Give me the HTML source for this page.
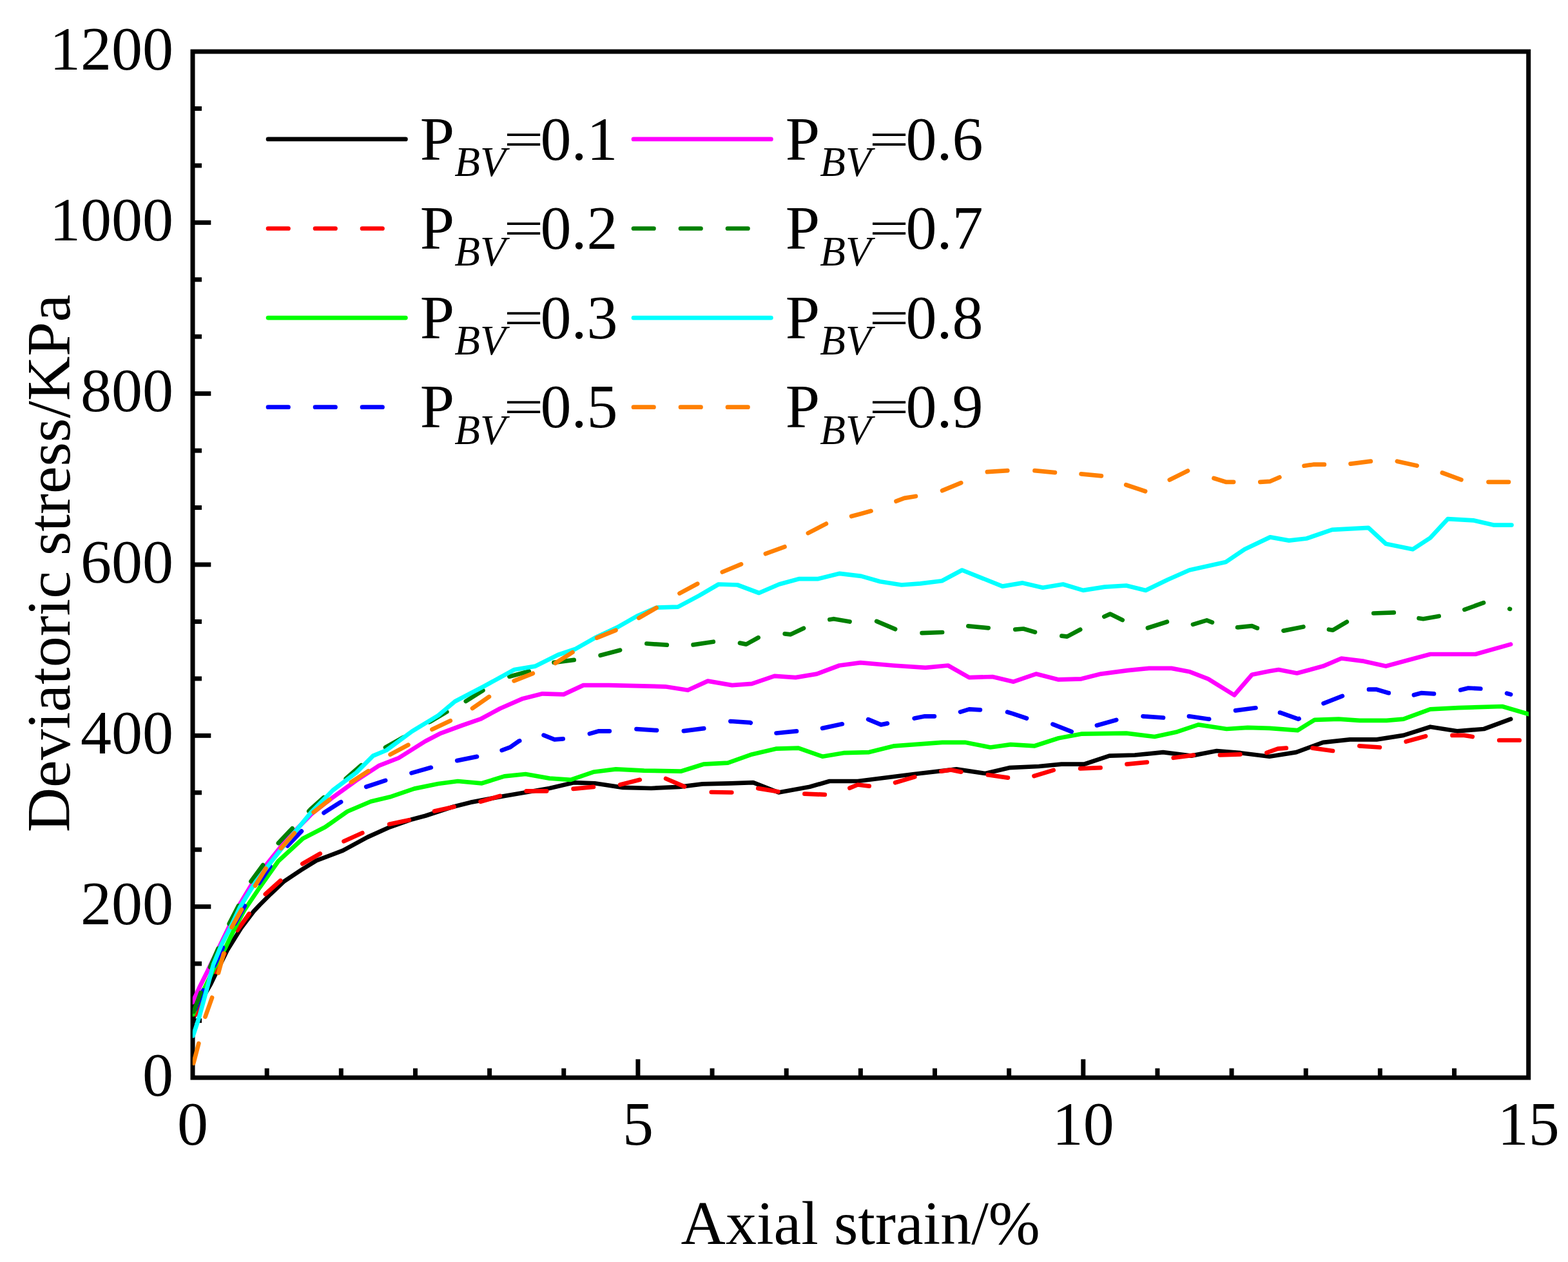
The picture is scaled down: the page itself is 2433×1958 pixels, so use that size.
<!DOCTYPE html>
<html><head><meta charset="utf-8"><title>Deviatoric stress vs axial strain</title>
<style>html,body{margin:0;padding:0;background:#fff;} svg{display:block;}</style>
</head><body>
<svg width="2433" height="1958" viewBox="0 0 2433 1958">
<rect x="0" y="0" width="2433" height="1958" fill="#ffffff"/>
<g stroke="#000" stroke-width="7.0" fill="none">
<rect x="299.0" y="80.0" width="2072.7" height="1592.0" stroke-linejoin="miter"/>
<line x1="299.0" y1="1583.56" x2="313.00" y2="1583.56"/>
<line x1="299.0" y1="1495.11" x2="313.00" y2="1495.11"/>
<line x1="299.0" y1="1406.67" x2="327.30" y2="1406.67"/>
<line x1="299.0" y1="1318.22" x2="313.00" y2="1318.22"/>
<line x1="299.0" y1="1229.78" x2="313.00" y2="1229.78"/>
<line x1="299.0" y1="1141.33" x2="327.30" y2="1141.33"/>
<line x1="299.0" y1="1052.89" x2="313.00" y2="1052.89"/>
<line x1="299.0" y1="964.44" x2="313.00" y2="964.44"/>
<line x1="299.0" y1="876.00" x2="327.30" y2="876.00"/>
<line x1="299.0" y1="787.56" x2="313.00" y2="787.56"/>
<line x1="299.0" y1="699.11" x2="313.00" y2="699.11"/>
<line x1="299.0" y1="610.67" x2="327.30" y2="610.67"/>
<line x1="299.0" y1="522.22" x2="313.00" y2="522.22"/>
<line x1="299.0" y1="433.78" x2="313.00" y2="433.78"/>
<line x1="299.0" y1="345.33" x2="327.30" y2="345.33"/>
<line x1="299.0" y1="256.89" x2="313.00" y2="256.89"/>
<line x1="299.0" y1="168.44" x2="313.00" y2="168.44"/>
<line x1="414.15" y1="1672.0" x2="414.15" y2="1657.50"/>
<line x1="529.30" y1="1672.0" x2="529.30" y2="1657.50"/>
<line x1="644.45" y1="1672.0" x2="644.45" y2="1657.50"/>
<line x1="759.60" y1="1672.0" x2="759.60" y2="1657.50"/>
<line x1="874.75" y1="1672.0" x2="874.75" y2="1657.50"/>
<line x1="989.90" y1="1672.0" x2="989.90" y2="1643.40"/>
<line x1="1105.05" y1="1672.0" x2="1105.05" y2="1657.50"/>
<line x1="1220.20" y1="1672.0" x2="1220.20" y2="1657.50"/>
<line x1="1335.35" y1="1672.0" x2="1335.35" y2="1657.50"/>
<line x1="1450.50" y1="1672.0" x2="1450.50" y2="1657.50"/>
<line x1="1565.65" y1="1672.0" x2="1565.65" y2="1657.50"/>
<line x1="1680.80" y1="1672.0" x2="1680.80" y2="1643.40"/>
<line x1="1795.95" y1="1672.0" x2="1795.95" y2="1657.50"/>
<line x1="1911.10" y1="1672.0" x2="1911.10" y2="1657.50"/>
<line x1="2026.25" y1="1672.0" x2="2026.25" y2="1657.50"/>
<line x1="2141.40" y1="1672.0" x2="2141.40" y2="1657.50"/>
<line x1="2256.55" y1="1672.0" x2="2256.55" y2="1657.50"/>
</g>
<defs><clipPath id="pc"><rect x="298.8" y="80" width="2073.2" height="1592"/></clipPath></defs>
<g fill="none" stroke-linejoin="round" stroke-linecap="round" clip-path="url(#pc)">
<polyline points="299.6,1580.0 312.0,1553.0 327.1,1526.5 340.0,1500.0 352.5,1474.6 374.0,1440.0 393.6,1414.0 403.0,1404.0 420.0,1387.0 440.0,1368.0 467.0,1350.0 491.0,1335.2 532.0,1319.6 570.2,1298.9 604.8,1283.3 639.4,1271.2 660.0,1265.7 704.0,1251.4 730.0,1244.9 782.6,1235.0 852.7,1223.0 890.0,1214.2 922.8,1215.3 966.5,1221.9 1010.3,1223.0 1054.1,1220.8 1090.0,1216.4 1133.8,1215.3 1168.8,1214.2 1208.2,1229.5 1256.4,1220.8 1287.1,1212.0 1330.9,1212.0 1418.4,1201.0 1484.1,1193.4 1528.8,1200.0 1566.0,1191.2 1612.0,1189.0 1647.0,1185.7 1682.0,1185.7 1721.4,1172.6 1760.9,1171.5 1804.7,1167.1 1848.4,1172.6 1887.9,1165.0 1925.1,1168.2 1969.7,1173.7 2011.3,1167.1 2052.9,1151.8 2094.5,1147.4 2136.1,1147.4 2177.7,1140.9 2219.3,1127.7 2260.9,1134.3 2302.5,1131.0 2344.1,1115.7" stroke="#000000" stroke-width="6.7"/>
<path d="M303.7,1574.1 L316.8,1545.5M334.3,1507.9 L335.2,1506.0 L348.2,1479.6M368.3,1443.3 L386.6,1417.7M411.8,1387.3 L435.2,1366.3M469.3,1340.2 L496.7,1324.5M533.5,1305.3 L562.3,1292.3M604.1,1278.8 L634.9,1272.2M674.0,1258.6 L704.7,1251.7M745.6,1243.8 L775.8,1235.0M816.7,1227.3 L848.2,1227.3M889.6,1223.9 L920.9,1220.9M962.2,1217.5 L992.8,1209.8M1033.1,1208.0 L1062.0,1220.4M1103.8,1229.0 L1135.3,1229.5M1176.3,1223.1 L1207.3,1228.3M1248.4,1231.7 L1279.8,1232.8M1318.4,1222.7 L1330.9,1217.5 L1348.7,1219.6M1389.1,1214.2 L1419.3,1205.4M1460.4,1196.6 L1475.4,1194.5 L1491.4,1197.7M1532.9,1202.2 L1533.0,1202.2 L1563.8,1206.6 L1564.0,1206.6M1604.5,1204.0 L1634.7,1194.9M1676.2,1192.3 L1707.6,1191.2M1748.5,1185.6 L1779.8,1182.6M1820.8,1175.8 L1852.0,1171.6M1892.9,1171.5 L1924.4,1170.4M1965.4,1167.8 L1982.8,1161.7 L1995.8,1160.7M2036.7,1160.6 L2068.0,1165.0M2109.4,1157.3 L2140.9,1159.5M2181.7,1150.5 L2212.1,1142.2M2253.5,1140.9 L2271.9,1140.9 L2284.8,1143.0M2326.2,1148.5 L2357.7,1148.5" stroke="#FF0000" stroke-width="6.7"/>
<polyline points="299.6,1574.0 315.0,1538.0 332.0,1503.0 349.0,1472.0 363.4,1442.0 378.7,1413.0 402.9,1377.0 431.9,1336.0 470.0,1301.0 504.5,1283.3 539.0,1259.0 575.4,1243.5 604.8,1236.6 642.8,1223.6 680.0,1216.0 710.4,1212.0 747.6,1215.3 782.6,1204.4 815.5,1201.0 852.7,1207.6 885.5,1209.8 920.6,1197.8 955.6,1193.4 999.4,1195.6 1056.3,1196.7 1091.4,1185.7 1129.4,1183.6 1166.6,1170.4 1203.9,1161.7 1238.9,1160.6 1276.1,1173.7 1309.0,1168.2 1348.4,1167.1 1387.8,1157.3 1462.2,1151.8 1497.3,1151.8 1536.7,1159.5 1568.2,1155.1 1605.4,1157.3 1642.6,1145.2 1677.7,1138.7 1747.7,1137.6 1791.5,1143.0 1826.5,1135.4 1859.4,1124.4 1903.2,1131.0 1936.0,1128.8 1970.0,1129.9 2013.5,1133.2 2039.8,1116.8 2077.0,1115.7 2109.8,1117.9 2151.4,1117.9 2177.7,1115.7 2219.3,1100.4 2263.1,1098.2 2331.0,1096.0 2372.0,1108.0" stroke="#00FF00" stroke-width="6.7"/>
<path d="M303.5,1565.5 L315.4,1536.4M332.3,1498.5 L340.0,1482.0 L345.8,1470.0M364.5,1433.0 L379.8,1405.4M401.8,1370.3 L419.3,1344.1M446.0,1312.4 L467.9,1289.6M502.5,1261.1 L502.8,1260.8 L528.7,1244.4 L529.1,1244.2M568.2,1220.8 L598.1,1210.9M638.5,1199.4 L638.5,1199.4 L668.8,1190.8 L668.8,1190.8M709.2,1180.1 L740.0,1173.9M778.7,1164.1 L779.3,1163.9 L791.4,1159.4 L805.6,1149.6 L806.2,1149.4M843.6,1140.6 L860.4,1147.4 L873.7,1146.4M914.9,1138.4 L929.3,1134.3 L945.8,1134.3M987.5,1131.1 L1019.0,1133.1M1060.9,1134.1 L1092.2,1130.1M1133.4,1119.1 L1133.8,1119.0 L1164.4,1121.2 L1164.8,1121.4M1204.6,1137.5 L1236.0,1134.4M1276.1,1129.9 L1276.1,1129.9 L1306.8,1123.3 L1306.8,1123.3M1347.2,1116.1 L1367.0,1124.4 L1376.9,1122.4M1418.7,1114.5 L1434.9,1111.3 L1449.9,1111.3M1490.1,1104.6 L1503.8,1100.4 L1520.9,1101.4M1563.1,1104.8 L1570.4,1106.9 L1593.0,1114.5M1633.5,1123.6 L1662.7,1135.1M1701.9,1125.4 L1732.2,1116.9M1773.6,1111.3 L1805.0,1113.5M1844.9,1111.3 L1845.2,1111.3 L1875.8,1115.7 L1876.1,1115.6M1917.1,1102.4 L1948.4,1098.3M1986.0,1105.6 L1987.2,1105.8 L2014.6,1115.7 L2015.6,1115.1M2053.6,1091.3 L2082.9,1079.9M2124.0,1069.7 L2124.1,1069.7 L2136.1,1069.7 L2154.7,1075.2 L2154.8,1075.2M2193.9,1078.3 L2205.1,1075.2 L2225.0,1076.3M2266.2,1070.6 L2278.4,1067.5 L2297.3,1068.5M2338.1,1075.7 L2344.1,1077.4" stroke="#0000FF" stroke-width="6.7"/>
<polyline points="299.0,1555.0 310.4,1530.0 321.4,1508.0 335.0,1480.0 350.0,1449.0 372.6,1402.0 390.0,1373.0 412.9,1342.0 445.0,1302.0 483.8,1262.5 514.9,1238.3 553.0,1210.7 587.5,1188.2 618.6,1176.0 660.0,1150.0 684.1,1137.6 716.9,1125.5 745.4,1115.7 776.0,1099.3 811.1,1083.9 841.7,1076.3 874.6,1077.4 905.2,1063.1 944.7,1063.1 1032.2,1065.3 1067.3,1070.8 1098.3,1056.6 1136.0,1063.1 1166.6,1060.9 1201.7,1048.9 1234.5,1051.1 1267.4,1045.6 1302.4,1032.5 1335.2,1028.1 1385.6,1032.5 1436.0,1035.8 1471.0,1032.5 1503.8,1051.1 1540.0,1050.0 1572.6,1057.7 1607.6,1045.6 1642.6,1054.4 1677.7,1053.3 1708.3,1045.6 1749.9,1040.1 1782.8,1036.9 1817.8,1036.9 1846.3,1042.3 1874.7,1053.3 1915.2,1078.5 1942.6,1046.7 1970.0,1041.2 1983.9,1039.0 2012.4,1044.5 2052.9,1033.6 2081.4,1021.5 2116.4,1025.9 2150.4,1033.6 2186.5,1023.7 2219.3,1015.0 2289.4,1015.0 2344.1,999.6" stroke="#FF00FF" stroke-width="6.7"/>
<path d="M300.5,1569.6 L311.5,1540.1M326.0,1500.6 L338.4,1471.7M355.6,1433.3 L355.7,1433.0 L370.0,1405.3M389.4,1367.5 L408.1,1342.1M431.9,1308.1 L448.9,1290.0 L453.5,1285.2M479.2,1258.6 L482.0,1255.6 L499.3,1240.0 L502.4,1237.3M536.7,1208.1 L560.5,1187.4M598.0,1159.6 L625.4,1144.1M666.1,1120.3 L668.8,1119.0 L690.7,1105.8 L693.3,1104.4M722.8,1088.0 L749.4,1071.1M790.4,1049.7 L820.8,1041.5M859.5,1027.9 L890.7,1023.9M931.6,1016.8 L962.1,1008.7M1003.4,998.5 L1034.8,1000.7M1075.6,1000.4 L1106.8,995.7M1148.0,997.6 L1157.9,999.6 L1176.6,989.2M1217.7,983.3 L1226.9,984.3 L1247.0,974.7M1287.4,961.2 L1293.6,960.2 L1318.5,964.5M1360.2,963.9 L1389.1,976.2M1430.6,982.1 L1462.1,981.0M1502.4,971.3 L1533.7,974.3M1575.3,976.6 L1587.9,975.5 L1606.0,980.8M1647.4,986.6 L1655.8,987.6 L1676.2,976.8M1713.3,956.7 L1722.5,952.6 L1741.7,962.1M1780.9,974.3 L1810.9,964.7M1851.0,968.9 L1872.5,962.4 L1880.9,965.6M1920.1,973.3 L1920.7,973.4 L1942.6,971.2 L1950.3,974.4 L1950.9,974.5M1991.5,978.6 L2022.4,972.5M2062.0,976.7 L2068.2,977.7 L2089.8,964.8M2131.3,951.5 L2162.8,950.4M2201.6,959.2 L2208.4,960.2 L2232.7,956.0M2272.4,945.8 L2302.0,935.2M2342.3,944.7 L2343.0,944.9" stroke="#008000" stroke-width="6.7"/>
<polyline points="299.6,1607.0 308.8,1579.0 320.0,1538.0 331.2,1496.0 344.0,1465.0 357.0,1440.0 372.6,1407.0 396.8,1368.0 421.0,1337.0 445.2,1306.0 483.8,1259.0 516.6,1226.0 553.0,1198.6 578.9,1172.6 599.6,1164.0 639.4,1134.6 680.0,1110.0 706.0,1088.3 752.0,1064.2 798.0,1039.0 830.8,1033.6 865.8,1016.0 892.0,1007.3 922.8,989.8 957.8,973.4 988.4,955.8 1019.1,942.7 1051.9,941.6 1084.8,924.1 1115.0,906.5 1144.3,907.5 1177.7,920.0 1209.0,906.5 1240.3,898.1 1269.5,898.1 1302.9,889.8 1336.3,893.9 1365.5,902.3 1398.9,907.5 1428.1,905.4 1461.5,901.2 1492.8,884.5 1555.5,909.6 1586.8,904.4 1618.1,911.7 1649.4,906.5 1680.7,915.9 1714.1,910.6 1747.5,908.5 1777.8,915.9 1812.2,899.2 1845.6,884.5 1902.0,872.0 1931.2,852.2 1970.9,833.4 2000.1,838.6 2027.2,835.5 2066.9,821.9 2123.2,818.8 2150.4,843.8 2192.1,852.2 2219.3,834.5 2246.4,805.2 2286.0,807.3 2317.4,814.6 2345.5,814.6" stroke="#00FFFF" stroke-width="6.7"/>
<path d="M300.3,1649.5 L308.3,1619.0M318.5,1577.5 L329.0,1547.8M338.9,1509.5 L339.0,1509.0 L347.2,1479.1M359.5,1438.7 L374.9,1411.2M396.0,1374.3 L412.4,1347.4M435.9,1316.2 L456.8,1292.6M486.6,1260.2 L511.3,1240.7M544.9,1213.6 L571.4,1196.4M605.6,1170.6 L633.4,1155.7M670.4,1131.8 L698.8,1118.2M733.0,1098.9 L758.9,1081.0M797.6,1056.3 L826.8,1044.8M861.8,1028.9 L888.4,1012.0M926.2,989.7 L955.4,977.8M991.2,958.8 L1018.5,943.0M1054.5,920.6 L1082.2,905.7M1120.8,887.5 L1150.0,875.4M1187.9,859.2 L1217.5,848.3M1253.9,827.1 L1281.9,812.6M1321.1,801.0 L1336.3,796.9 L1351.5,792.8M1390.5,777.7 L1403.1,772.9 L1420.9,770.0M1462.1,761.2 L1491.2,749.1M1531.9,732.2 L1563.3,730.1M1605.5,730.2 L1636.9,733.1M1677.6,735.3 L1677.6,735.3 L1708.9,738.4 L1708.9,738.4M1747.2,752.2 L1777.1,762.2M1814.8,744.4 L1843.0,730.4M1883.5,742.0 L1902.0,747.8 L1914.1,747.8M1955.3,747.8 L1970.9,746.8 L1985.4,740.5M2023.6,722.7 L2037.7,720.7 L2054.9,720.7M2095.6,719.6 L2126.9,715.6M2167.9,715.7 L2198.6,722.6M2237.9,733.5 L2267.4,744.4M2309.5,747.8 L2341.0,747.8" stroke="#FF8000" stroke-width="6.7"/>
</g>
<g font-family="'Liberation Serif','Times New Roman',serif" font-size="96" fill="#000">
<text x="269.0" y="1699.6" text-anchor="end">0</text>
<text x="269.0" y="1434.3" text-anchor="end">200</text>
<text x="269.0" y="1168.9" text-anchor="end">400</text>
<text x="269.0" y="903.6" text-anchor="end">600</text>
<text x="269.0" y="638.3" text-anchor="end">800</text>
<text x="269.0" y="372.9" text-anchor="end">1000</text>
<text x="269.0" y="107.6" text-anchor="end">1200</text>
<text x="299.0" y="1775.8" text-anchor="middle">0</text>
<text x="989.9" y="1775.8" text-anchor="middle">5</text>
<text x="1680.8" y="1775.8" text-anchor="middle">10</text>
<text x="2371.7" y="1775.8" text-anchor="middle">15</text>
<text x="1335.2" y="1930.2" text-anchor="middle">Axial strain/%</text>
<text transform="translate(108,874) rotate(-90)" x="0" y="0" text-anchor="middle">Deviatoric stress/KPa</text>
</g>
<line x1="416.0" y1="215.9" x2="629.4" y2="215.9" stroke="#000000" stroke-width="6.7" stroke-linecap="round"/>
<text font-family="'Liberation Serif','Times New Roman',serif" font-size="96" x="651.8" y="247.9">P<tspan font-style="italic" font-size="65" dy="25.1">BV</tspan></text>
<text font-family="'Liberation Serif','Times New Roman',serif" font-size="96" transform="matrix(1.145 0 0 0.77 781.4 240.81)" x="0" y="0">=</text>
<text font-family="'Liberation Serif','Times New Roman',serif" font-size="96" x="838.6" y="247.9">0.1</text>
<line x1="416.0" y1="354.5" x2="629.4" y2="354.5" stroke="#FF0000" stroke-width="6.7" stroke-linecap="round" stroke-dasharray="31.5 41.5"/>
<text font-family="'Liberation Serif','Times New Roman',serif" font-size="96" x="651.8" y="386.4">P<tspan font-style="italic" font-size="65" dy="25.1">BV</tspan></text>
<text font-family="'Liberation Serif','Times New Roman',serif" font-size="96" transform="matrix(1.145 0 0 0.77 781.4 379.31)" x="0" y="0">=</text>
<text font-family="'Liberation Serif','Times New Roman',serif" font-size="96" x="838.6" y="386.4">0.2</text>
<line x1="416.0" y1="493.1" x2="629.4" y2="493.1" stroke="#00FF00" stroke-width="6.7" stroke-linecap="round"/>
<text font-family="'Liberation Serif','Times New Roman',serif" font-size="96" x="651.8" y="524.9">P<tspan font-style="italic" font-size="65" dy="25.1">BV</tspan></text>
<text font-family="'Liberation Serif','Times New Roman',serif" font-size="96" transform="matrix(1.145 0 0 0.77 781.4 517.81)" x="0" y="0">=</text>
<text font-family="'Liberation Serif','Times New Roman',serif" font-size="96" x="838.6" y="524.9">0.3</text>
<line x1="416.0" y1="631.7" x2="629.4" y2="631.7" stroke="#0000FF" stroke-width="6.7" stroke-linecap="round" stroke-dasharray="31.5 41.5"/>
<text font-family="'Liberation Serif','Times New Roman',serif" font-size="96" x="651.8" y="663.4">P<tspan font-style="italic" font-size="65" dy="25.1">BV</tspan></text>
<text font-family="'Liberation Serif','Times New Roman',serif" font-size="96" transform="matrix(1.145 0 0 0.77 781.4 656.31)" x="0" y="0">=</text>
<text font-family="'Liberation Serif','Times New Roman',serif" font-size="96" x="838.6" y="663.4">0.5</text>
<line x1="983.0" y1="215.9" x2="1196.4" y2="215.9" stroke="#FF00FF" stroke-width="6.7" stroke-linecap="round"/>
<text font-family="'Liberation Serif','Times New Roman',serif" font-size="96" x="1218.8" y="247.9">P<tspan font-style="italic" font-size="65" dy="25.1">BV</tspan></text>
<text font-family="'Liberation Serif','Times New Roman',serif" font-size="96" transform="matrix(1.145 0 0 0.77 1348.4 240.81)" x="0" y="0">=</text>
<text font-family="'Liberation Serif','Times New Roman',serif" font-size="96" x="1405.6" y="247.9">0.6</text>
<line x1="983.0" y1="354.5" x2="1196.4" y2="354.5" stroke="#008000" stroke-width="6.7" stroke-linecap="round" stroke-dasharray="31.5 41.5"/>
<text font-family="'Liberation Serif','Times New Roman',serif" font-size="96" x="1218.8" y="386.4">P<tspan font-style="italic" font-size="65" dy="25.1">BV</tspan></text>
<text font-family="'Liberation Serif','Times New Roman',serif" font-size="96" transform="matrix(1.145 0 0 0.77 1348.4 379.31)" x="0" y="0">=</text>
<text font-family="'Liberation Serif','Times New Roman',serif" font-size="96" x="1405.6" y="386.4">0.7</text>
<line x1="983.0" y1="493.1" x2="1196.4" y2="493.1" stroke="#00FFFF" stroke-width="6.7" stroke-linecap="round"/>
<text font-family="'Liberation Serif','Times New Roman',serif" font-size="96" x="1218.8" y="524.9">P<tspan font-style="italic" font-size="65" dy="25.1">BV</tspan></text>
<text font-family="'Liberation Serif','Times New Roman',serif" font-size="96" transform="matrix(1.145 0 0 0.77 1348.4 517.81)" x="0" y="0">=</text>
<text font-family="'Liberation Serif','Times New Roman',serif" font-size="96" x="1405.6" y="524.9">0.8</text>
<line x1="983.0" y1="631.7" x2="1196.4" y2="631.7" stroke="#FF8000" stroke-width="6.7" stroke-linecap="round" stroke-dasharray="31.5 41.5"/>
<text font-family="'Liberation Serif','Times New Roman',serif" font-size="96" x="1218.8" y="663.4">P<tspan font-style="italic" font-size="65" dy="25.1">BV</tspan></text>
<text font-family="'Liberation Serif','Times New Roman',serif" font-size="96" transform="matrix(1.145 0 0 0.77 1348.4 656.31)" x="0" y="0">=</text>
<text font-family="'Liberation Serif','Times New Roman',serif" font-size="96" x="1405.6" y="663.4">0.9</text>
</svg>
</body></html>
